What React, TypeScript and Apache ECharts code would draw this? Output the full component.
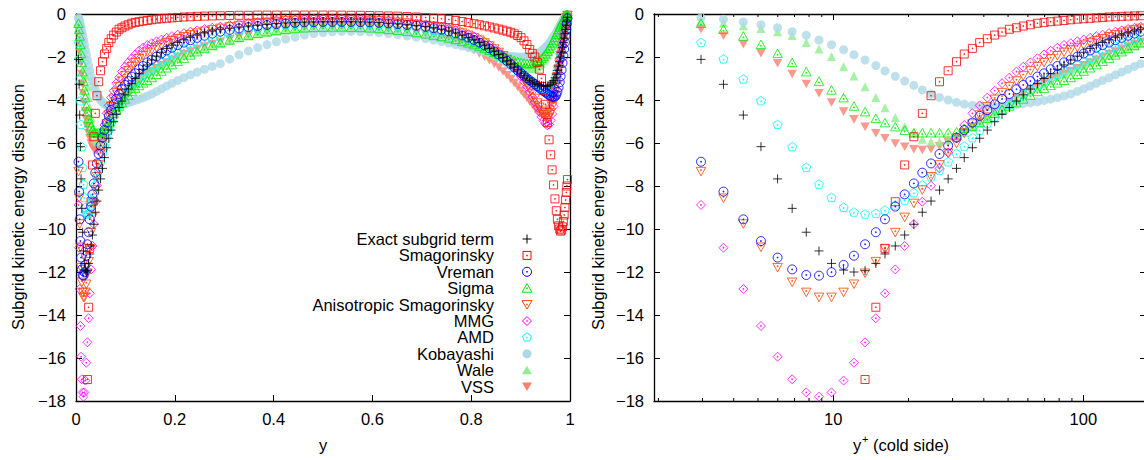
import React, { useEffect, useRef } from "react";
import * as echarts from "echarts";

const FONT = "'Liberation Sans', Arial, Helvetica, sans-serif";
const FS = 16.5;

// ---------- axis / tick data ----------
const logMinorTicks = [2, 3, 4, 5, 6, 7, 8, 9, 20, 30, 40, 50, 60, 70, 80, 90];
const legendNames = [
  "Exact subgrid term",
  "Smagorinsky",
  "Vreman",
  "Sigma",
  "Anisotropic Smagorinsky",
  "MMG",
  "AMD",
  "Kobayashi",
  "Wale",
  "VSS",
];

// ---------- grid positions ----------
// y+ of the cold-side points (right panel)
const yPlus = [2.96, 3.64, 4.37, 5.14, 5.99, 6.85, 7.8, 8.77, 9.84, 11.0, 12.1, 13.4, 14.8, 16.1, 17.7, 19.3, 21.0, 22.7, 24.6, 26.6, 28.8, 31.1, 33.4, 36.0, 38.5, 41.3, 44.2, 47.3, 50.6, 54.0, 57.5, 61.4, 65.5, 69.6, 74.0, 78.7, 83.7, 89.0, 94.6, 100.3, 106.4, 112.7, 119.4, 126.7, 134.3, 142.3, 150.9, 160.0, 169.5];
// y of the same cold-side points (left panel)
const yCold = [0.0051, 0.0063, 0.0075, 0.0089, 0.0103, 0.0118, 0.0134, 0.0151, 0.017, 0.019, 0.0209, 0.0231, 0.0255, 0.0278, 0.0305, 0.0333, 0.0362, 0.0391, 0.0424, 0.0459, 0.0497, 0.0536, 0.0576, 0.0621, 0.0664, 0.0712, 0.0762, 0.0816, 0.0872, 0.0931, 0.0991, 0.1059, 0.1129, 0.12, 0.1276, 0.1357, 0.1443, 0.1534, 0.1631, 0.1729, 0.1834, 0.1943, 0.2059, 0.2184, 0.2316, 0.2453, 0.2602, 0.2759, 0.2922];
const yMid = [0.3111, 0.33, 0.3489, 0.3678, 0.3867, 0.4056, 0.4245, 0.4434, 0.4623, 0.4812, 0.5001, 0.519, 0.5379, 0.5568, 0.5757, 0.5946, 0.6135, 0.6324, 0.6513, 0.6702, 0.6891];
const yHot = [0.7078, 0.7241, 0.7398, 0.7547, 0.7684, 0.7816, 0.7941, 0.8057, 0.8166, 0.8271, 0.8369, 0.8466, 0.8557, 0.8643, 0.8724, 0.88, 0.8871, 0.8941, 0.9009, 0.9069, 0.9128, 0.9184, 0.9238, 0.9288, 0.9336, 0.9379, 0.9424, 0.9464, 0.9503, 0.9541, 0.9576, 0.9609, 0.9638, 0.9667, 0.9695, 0.9722, 0.9745, 0.9769, 0.9791, 0.981, 0.983, 0.9849, 0.9866, 0.9882, 0.9897, 0.9911, 0.9925, 0.9937, 0.9949];

const N = null;

// ---------- Exact subgrid term ----------
const exactCold = [-2.11, -3.27, -4.7, -6.17, -7.67, -9.04, -10.15, -11.02, -11.6, -11.91, -12.0, -11.94, -11.6, -11.16, -10.79, -10.28, -9.78, -9.22, -8.7, -8.19, -7.67, -7.18, -6.68, -6.22, -5.78, -5.4, -5.01, -4.67, -4.35, -4.05, -3.76, -3.49, -3.24, -3.0, -2.78, -2.57, -2.37, -2.14, -1.96, -1.78, -1.6, -1.45, -1.32, -1.2, -1.08, -0.98, -0.88, -0.79, -0.71];
const exactMid = [-0.66, -0.61, -0.56, -0.52, -0.48, -0.45, -0.42, -0.4, -0.38, -0.37, -0.36, -0.36, -0.36, -0.36, -0.37, -0.38, -0.4, -0.43, -0.46, -0.5, -0.54];
const exactHot = [-0.58, -0.64, -0.71, -0.79, -0.88, -0.98, -1.1, -1.2, -1.32, -1.45, -1.6, -1.73, -1.88, -2.03, -2.18, -2.33, -2.47, -2.6, -2.75, -2.87, -2.98, -3.08, -3.16, -3.22, -3.27, -3.3, -3.33, -3.35, -3.36, -3.35, -3.32, -3.27, -3.2, -3.1, -2.97, -2.8, -2.62, -2.42, -2.22, -2.0, -1.78, -1.55, -1.33, -1.12, -0.92, -0.72, -0.52, -0.33, -0.15];

// ---------- Smagorinsky ----------
const smagCold = [N, N, N, N, N, N, N, N, N, N, N, -17.0, -13.64, -10.9, -8.73, -7.02, -5.71, -4.62, -3.8, -3.15, -2.64, -2.22, -1.86, -1.6, -1.33, -1.15, -0.98, -0.84, -0.71, -0.64, -0.56, -0.5, -0.43, -0.39, -0.36, -0.33, -0.3, -0.27, -0.24, -0.22, -0.2, -0.18, -0.16, -0.14, -0.13, -0.11, -0.1, -0.09, -0.08];
const smagMid = [-0.07, -0.06, -0.06, -0.05, -0.05, -0.05, -0.05, -0.05, -0.05, -0.05, -0.05, -0.05, -0.05, -0.06, -0.06, -0.07, -0.08, -0.09, -0.1, -0.12, -0.14];
const smagHot = [-0.16, -0.19, -0.22, -0.26, -0.3, -0.35, -0.4, -0.45, -0.5, -0.55, -0.6, -0.65, -0.7, -0.75, -0.8, -0.85, -0.92, -1.0, -1.1, -1.25, -1.42, -1.65, -1.83, -2.0, -2.25, -2.57, -3.0, -3.55, -4.2, -5.05, -5.85, -6.55, -7.25, -7.95, -8.6, -9.15, -9.55, -9.85, -10.0, -10.1, -10.05, -9.9, -9.65, -9.35, -9.0, -8.65, -8.3, -8.0, -7.7];

// ---------- Vreman ----------
const vremanCold = [-6.87, -8.26, -9.55, -10.56, -11.33, -11.88, -12.14, -12.17, -12.01, -11.67, -11.24, -10.71, -10.15, -9.55, -8.96, -8.39, -7.88, -7.38, -6.95, -6.51, -6.12, -5.75, -5.4, -5.05, -4.74, -4.47, -4.2, -3.95, -3.72, -3.5, -3.3, -3.12, -2.91, -2.76, -2.57, -2.42, -2.25, -2.12, -1.98, -1.84, -1.7, -1.57, -1.45, -1.33, -1.22, -1.11, -1.01, -0.91, -0.82];
const vremanMid = [-0.74, -0.67, -0.61, -0.56, -0.51, -0.47, -0.44, -0.41, -0.39, -0.38, -0.37, -0.37, -0.37, -0.37, -0.38, -0.39, -0.41, -0.44, -0.47, -0.51, -0.55];
const vremanHot = [-0.6, -0.66, -0.73, -0.81, -0.9, -1.0, -1.1, -1.21, -1.33, -1.46, -1.6, -1.74, -1.88, -2.03, -2.18, -2.33, -2.48, -2.62, -2.75, -2.87, -2.98, -3.08, -3.17, -3.26, -3.35, -3.43, -3.51, -3.58, -3.65, -3.71, -3.77, -3.82, -3.85, -3.86, -3.84, -3.76, -3.62, -3.42, -3.17, -2.9, -2.6, -2.28, -1.95, -1.63, -1.32, -1.02, -0.72, -0.45, -0.2];

// ---------- Sigma ----------
const sigmaCold = [-0.43, -0.71, -1.02, -1.41, -1.83, -2.25, -2.68, -3.12, -3.53, -3.89, -4.28, -4.54, -4.85, -5.05, -5.24, -5.4, -5.52, -5.52, -5.52, -5.52, -5.52, -5.47, -5.32, -5.21, -5.05, -4.85, -4.62, -4.43, -4.28, -4.12, -3.95, -3.77, -3.6, -3.45, -3.32, -3.2, -3.08, -2.95, -2.8, -2.65, -2.5, -2.35, -2.2, -2.05, -1.9, -1.75, -1.6, -1.46, -1.33];
const sigmaMid = [-1.2, -1.08, -0.98, -0.89, -0.82, -0.76, -0.71, -0.67, -0.64, -0.62, -0.61, -0.6, -0.6, -0.61, -0.62, -0.64, -0.67, -0.71, -0.75, -0.8, -0.86];
const sigmaHot = [-0.92, -0.98, -1.04, -1.11, -1.18, -1.26, -1.34, -1.42, -1.51, -1.6, -1.69, -1.78, -1.87, -1.95, -2.03, -2.1, -2.16, -2.21, -2.25, -2.28, -2.3, -2.31, -2.3, -2.27, -2.22, -2.15, -2.06, -1.96, -1.85, -1.73, -1.6, -1.47, -1.34, -1.21, -1.08, -0.95, -0.83, -0.71, -0.6, -0.5, -0.41, -0.32, -0.25, -0.18, -0.12, -0.08, -0.05, -0.03, -0.01];

// ---------- Anisotropic Smagorinsky ----------
const anisoCold = [-7.33, -8.57, -9.77, -10.85, -11.8, -12.48, -12.95, -13.18, -13.18, -12.95, -12.57, -12.06, -11.52, -10.93, -10.17, -9.46, -8.81, -8.19, -7.57, -7.02, -6.48, -6.02, -5.55, -5.12, -4.7, -4.31, -3.97, -3.66, -3.38, -3.12, -2.88, -2.65, -2.45, -2.26, -2.09, -1.94, -1.78, -1.67, -1.56, -1.45, -1.35, -1.25, -1.15, -1.06, -0.97, -0.89, -0.81, -0.74, -0.67];
const anisoMid = [-0.6, -0.54, -0.48, -0.43, -0.39, -0.35, -0.32, -0.3, -0.28, -0.27, -0.26, -0.26, -0.26, -0.27, -0.28, -0.3, -0.32, -0.35, -0.39, -0.43, -0.48];
const anisoHot = [-0.53, -0.59, -0.65, -0.72, -0.8, -0.89, -0.99, -1.1, -1.22, -1.35, -1.49, -1.63, -1.79, -1.95, -2.12, -2.3, -2.48, -2.67, -2.87, -3.07, -3.28, -3.5, -3.72, -3.93, -4.14, -4.34, -4.53, -4.69, -4.81, -4.86, -4.8, -4.6, -4.32, -3.99, -3.64, -3.27, -2.92, -2.57, -2.24, -1.93, -1.63, -1.35, -1.09, -0.86, -0.65, -0.47, -0.31, -0.18, -0.07];

// ---------- MMG ----------
const mmgCold = [-8.88, -10.87, -12.79, -14.51, -15.94, -16.99, -17.6, -17.8, -17.6, -17.05, -16.22, -15.27, -14.15, -12.99, -11.88, -10.79, -9.77, -8.73, -7.99, -7.18, -6.45, -5.78, -5.16, -4.62, -4.25, -3.89, -3.57, -3.22, -2.96, -2.68, -2.45, -2.25, -2.06, -1.88, -1.71, -1.57, -1.44, -1.36, -1.27, -1.19, -1.11, -1.03, -0.96, -0.89, -0.82, -0.76, -0.7, -0.64, -0.59];
const mmgMid = [-0.52, -0.46, -0.41, -0.37, -0.33, -0.3, -0.27, -0.25, -0.23, -0.22, -0.21, -0.21, -0.21, -0.22, -0.23, -0.25, -0.27, -0.3, -0.34, -0.38, -0.43];
const mmgHot = [-0.48, -0.54, -0.6, -0.67, -0.75, -0.84, -0.94, -1.05, -1.17, -1.3, -1.44, -1.59, -1.75, -1.92, -2.1, -2.29, -2.49, -2.7, -2.92, -3.15, -3.38, -3.62, -3.86, -4.1, -4.34, -4.56, -4.78, -4.96, -5.1, -5.18, -5.15, -4.95, -4.65, -4.3, -3.92, -3.52, -3.14, -2.76, -2.4, -2.06, -1.74, -1.44, -1.16, -0.91, -0.69, -0.5, -0.33, -0.19, -0.08];

// ---------- AMD ----------
const amdCold = [-1.32, -2.09, -3.02, -4.03, -5.13, -6.17, -7.13, -7.91, -8.53, -8.99, -9.21, -9.3, -9.27, -9.12, -8.88, -8.65, -8.31, -7.95, -7.57, -7.26, -6.87, -6.48, -6.14, -5.75, -5.4, -5.09, -4.78, -4.47, -4.2, -3.95, -3.72, -3.5, -3.3, -3.12, -2.95, -2.79, -2.64, -2.5, -2.35, -2.2, -2.05, -1.9, -1.76, -1.62, -1.49, -1.36, -1.24, -1.13, -1.02];
const amdMid = [-0.9, -0.8, -0.72, -0.65, -0.59, -0.54, -0.5, -0.47, -0.45, -0.43, -0.42, -0.42, -0.42, -0.43, -0.44, -0.46, -0.48, -0.51, -0.55, -0.59, -0.64];
const amdHot = [-0.69, -0.75, -0.82, -0.9, -0.99, -1.09, -1.19, -1.3, -1.42, -1.54, -1.67, -1.8, -1.94, -2.08, -2.22, -2.36, -2.5, -2.63, -2.76, -2.88, -2.99, -3.09, -3.18, -3.27, -3.35, -3.42, -3.49, -3.55, -3.6, -3.63, -3.64, -3.6, -3.5, -3.35, -3.15, -2.92, -2.68, -2.42, -2.15, -1.88, -1.62, -1.37, -1.13, -0.9, -0.69, -0.5, -0.33, -0.19, -0.08];

// ---------- Kobayashi ----------
const kobaCold = [-0.17, -0.25, -0.37, -0.5, -0.64, -0.82, -0.99, -1.21, -1.43, -1.66, -1.89, -2.14, -2.4, -2.65, -2.9, -3.12, -3.32, -3.53, -3.72, -3.88, -4.0, -4.11, -4.19, -4.25, -4.29, -4.31, -4.31, -4.29, -4.26, -4.22, -4.17, -4.13, -4.08, -4.02, -3.96, -3.89, -3.81, -3.72, -3.6, -3.48, -3.35, -3.22, -3.09, -2.96, -2.83, -2.7, -2.57, -2.44, -2.31];
const kobaMid = [-2.1, -1.9, -1.72, -1.56, -1.42, -1.29, -1.17, -1.07, -0.98, -0.91, -0.86, -0.83, -0.81, -0.81, -0.82, -0.84, -0.87, -0.91, -0.96, -1.02, -1.08];
const kobaHot = [-1.15, -1.21, -1.28, -1.35, -1.42, -1.49, -1.56, -1.62, -1.68, -1.74, -1.79, -1.84, -1.88, -1.91, -1.94, -1.96, -1.98, -1.99, -2.0, -2.0, -1.99, -1.97, -1.94, -1.9, -1.85, -1.79, -1.72, -1.64, -1.56, -1.47, -1.37, -1.27, -1.17, -1.07, -0.97, -0.87, -0.77, -0.67, -0.58, -0.49, -0.41, -0.33, -0.26, -0.2, -0.15, -0.1, -0.06, -0.03, -0.01];

// ---------- Wale ----------
const waleCold = [-0.3, -0.42, -0.55, -0.68, -0.82, -1.0, -1.32, -1.63, -1.98, -2.45, -2.88, -3.38, -3.88, -4.36, -4.81, -5.24, -5.55, -5.83, -5.94, -5.94, -5.86, -5.71, -5.5, -5.28, -5.05, -4.82, -4.6, -4.38, -4.17, -3.97, -3.78, -3.6, -3.42, -3.25, -3.09, -2.94, -2.8, -2.66, -2.53, -2.4, -2.27, -2.15, -2.03, -1.91, -1.8, -1.69, -1.58, -1.48, -1.38];
const waleMid = [-1.24, -1.12, -1.02, -0.93, -0.86, -0.8, -0.75, -0.71, -0.68, -0.66, -0.65, -0.64, -0.64, -0.65, -0.66, -0.68, -0.71, -0.75, -0.79, -0.84, -0.9];
const waleHot = [-0.96, -1.03, -1.1, -1.17, -1.25, -1.33, -1.42, -1.51, -1.6, -1.7, -1.8, -1.9, -1.99, -2.08, -2.17, -2.25, -2.32, -2.39, -2.44, -2.49, -2.52, -2.54, -2.54, -2.52, -2.47, -2.4, -2.3, -2.18, -2.05, -1.9, -1.75, -1.59, -1.43, -1.28, -1.13, -0.99, -0.86, -0.73, -0.62, -0.51, -0.41, -0.32, -0.25, -0.18, -0.12, -0.08, -0.05, -0.03, -0.01];

// ---------- VSS ----------
const vssCold = [-0.71, -1.01, -1.41, -1.83, -2.29, -2.79, -3.26, -3.69, -4.12, -4.54, -4.9, -5.24, -5.55, -5.78, -6.02, -6.17, -6.29, -6.33, -6.29, -6.15, -5.96, -5.74, -5.5, -5.25, -5.0, -4.76, -4.53, -4.31, -4.1, -3.9, -3.71, -3.53, -3.36, -3.2, -3.05, -2.91, -2.78, -2.65, -2.52, -2.39, -2.26, -2.13, -2.0, -1.87, -1.75, -1.63, -1.51, -1.4, -1.29];
const vssMid = [-1.18, -1.07, -0.97, -0.88, -0.8, -0.73, -0.67, -0.63, -0.6, -0.58, -0.57, -0.57, -0.57, -0.58, -0.6, -0.62, -0.65, -0.69, -0.74, -0.8, -0.86];
const vssHot = [-0.92, -1.0, -1.09, -1.19, -1.3, -1.42, -1.55, -1.69, -1.84, -1.99, -2.15, -2.32, -2.49, -2.67, -2.85, -3.03, -3.21, -3.39, -3.57, -3.74, -3.91, -4.07, -4.22, -4.36, -4.49, -4.6, -4.68, -4.72, -4.7, -4.6, -4.42, -4.18, -3.9, -3.6, -3.28, -2.96, -2.64, -2.33, -2.03, -1.75, -1.48, -1.23, -1.0, -0.79, -0.6, -0.43, -0.28, -0.16, -0.06];

// ---------- styles (kept separate from data) ----------
type Kind = "plus" | "square" | "circle" | "tri" | "tridown" | "diamond" | "pent" | "fcircle" | "ftri" | "ftridown";
const SYMBOL_PATH: Record<Kind, string> = {
  plus: "path://M4,0V8M0,4H8",
  square: "path://M0,0H10V10H0Z M4.5,4.5H5.5V5.5H4.5Z",
  circle: "path://M10,5A5,5 0 1 1 0,5A5,5 0 1 1 10,5Z M4.5,4.5H5.5V5.5H4.5Z",
  tri: "path://M5,0L10,9L0,9Z M4.5,5.5H5.5V6.5H4.5Z",
  tridown: "path://M0,0L10,0L5,9Z M4.5,2.5H5.5V3.5H4.5Z",
  diamond: "path://M5,0L10,5L5,10L0,5Z M4.5,4.5H5.5V5.5H4.5Z",
  pent: "path://M5,0L9.76,3.46L7.94,9.05L2.06,9.05L0.24,3.46Z M4.5,4.8H5.5V5.8H4.5Z",
  fcircle: "circle",
  ftri: "triangle",
  ftridown: "path://M0,0L10,0L5,9Z",
};

const seriesDefs = [
  { name: legendNames[0], cold: exactCold, mid: exactMid, hot: exactHot, color: "#000000", kind: "plus" as Kind, size: 9 },
  { name: legendNames[1], cold: smagCold, mid: smagMid, hot: smagHot, color: "#ff0000", kind: "square" as Kind, size: 8 },
  { name: legendNames[2], cold: vremanCold, mid: vremanMid, hot: vremanHot, color: "#0000ff", kind: "circle" as Kind, size: 9 },
  { name: legendNames[3], cold: sigmaCold, mid: sigmaMid, hot: sigmaHot, color: "#00ee00", kind: "tri" as Kind, size: 9.5 },
  { name: legendNames[4], cold: anisoCold, mid: anisoMid, hot: anisoHot, color: "#ff4500", kind: "tridown" as Kind, size: 9.5 },
  { name: legendNames[5], cold: mmgCold, mid: mmgMid, hot: mmgHot, color: "#ff00ff", kind: "diamond" as Kind, size: 9 },
  { name: legendNames[6], cold: amdCold, mid: amdMid, hot: amdHot, color: "#00ffff", kind: "pent" as Kind, size: 9 },
  { name: legendNames[7], cold: kobaCold, mid: kobaMid, hot: kobaHot, color: "#add8e6", kind: "fcircle" as Kind, size: 9 },
  { name: legendNames[8], cold: waleCold, mid: waleMid, hot: waleHot, color: "#90ee90", kind: "ftri" as Kind, size: 9 },
  { name: legendNames[9], cold: vssCold, mid: vssMid, hot: vssHot, color: "#fa8072", kind: "ftridown" as Kind, size: 9.5 },
];

const isFilled = (k: Kind) => k === "fcircle" || k === "ftri" || k === "ftridown";

function legendIcon(kind: Kind, color: string, cx: number, cy: number): any[] {
  const r = 4;
  const line = { stroke: color, fill: "none", lineWidth: 1 };
  const dot = { type: "rect", shape: { x: cx - 0.75, y: cy - 0.75, width: 1.5, height: 1.5 }, style: { fill: color } };
  switch (kind) {
    case "plus":
      return [
        { type: "line", shape: { x1: cx - 4.5, y1: cy, x2: cx + 4.5, y2: cy }, style: { stroke: color, lineWidth: 1 } },
        { type: "line", shape: { x1: cx, y1: cy - 4.5, x2: cx, y2: cy + 4.5 }, style: { stroke: color, lineWidth: 1 } },
      ];
    case "square":
      return [{ type: "rect", shape: { x: cx - r, y: cy - r, width: 2 * r, height: 2 * r }, style: line }, dot];
    case "circle":
      return [{ type: "circle", shape: { cx, cy, r: 4.5 }, style: line }, dot];
    case "tri":
      return [{ type: "polygon", shape: { points: [[cx, cy - 4.5], [cx + 5, cy + 4], [cx - 5, cy + 4]] }, style: line }, dot];
    case "tridown":
      return [{ type: "polygon", shape: { points: [[cx - 5, cy - 4], [cx + 5, cy - 4], [cx, cy + 4.5]] }, style: line }, dot];
    case "diamond":
      return [{ type: "polygon", shape: { points: [[cx, cy - 4.5], [cx + 4.5, cy], [cx, cy + 4.5], [cx - 4.5, cy]] }, style: line }, dot];
    case "pent":
      return [
        { type: "polygon", shape: { points: [[cx, cy - 4.6], [cx + 4.4, cy - 1.4], [cx + 2.7, cy + 3.7], [cx - 2.7, cy + 3.7], [cx - 4.4, cy - 1.4]] }, style: line },
        dot,
      ];
    case "fcircle":
      return [{ type: "circle", shape: { cx, cy, r: 4.5 }, style: { fill: color } }];
    case "ftri":
      return [{ type: "polygon", shape: { points: [[cx, cy - 4.5], [cx + 5, cy + 4], [cx - 5, cy + 4]] }, style: { fill: color } }];
    case "ftridown":
      return [{ type: "polygon", shape: { points: [[cx - 5, cy - 4], [cx + 5, cy - 4], [cx, cy + 4.5]] }, style: { fill: color } }];
  }
  return [];
}

const minusFmt = (v: number) => (v < 0 ? "\u2212" + Math.abs(v) : String(v));
const logFmt = (v: number) => {
  const l = Math.log10(v);
  return Math.abs(l - Math.round(l)) < 1e-6 ? String(Math.round(v)) : "";
};

const axisLineStyle = { show: true, onZero: false, lineStyle: { color: "#000", width: 1.3 } };
const labelStyle = { fontSize: FS, fontFamily: FONT, color: "#000" };

function yAxisDef(gridIndex: number, position: string, showLabel: boolean) {
  return {
    type: "value",
    gridIndex,
    position,
    min: -18,
    max: 0,
    interval: 2,
    axisLine: axisLineStyle,
    axisTick: { show: true, inside: true, length: 6, lineStyle: { color: "#000", width: 1 } },
    axisLabel: { show: showLabel, margin: 10, ...labelStyle, formatter: minusFmt },
    splitLine: { show: false },
  };
}

function linXAxis(position: string, showLabel: boolean) {
  return {
    type: "value",
    gridIndex: 0,
    position,
    min: 0,
    max: 1,
    interval: 0.2,
    axisLine: axisLineStyle,
    axisTick: { show: true, inside: true, length: 6, lineStyle: { color: "#000", width: 1 } },
    axisLabel: { show: showLabel, margin: 9, ...labelStyle, formatter: (v: number) => String(Math.round(v * 10) / 10) },
    splitLine: { show: false },
  };
}

function logXAxis(position: string, showLabel: boolean) {
  return {
    type: "log",
    logBase: 10,
    gridIndex: 1,
    position,
    min: 1.92,
    max: 178,
    axisLine: axisLineStyle,
    axisTick: { show: true, inside: true, length: 6, lineStyle: { color: "#000", width: 1 } },
    axisLabel: { show: showLabel, margin: 9, ...labelStyle, formatter: logFmt, showMinLabel: false, showMaxLabel: false },
    splitLine: { show: false },
    minorTick: { show: false },
  };
}

function buildOption() {
  const ordered = [...seriesDefs].reverse();
  const series: any[] = [];
  ordered.forEach((s) => {
    const filled = isFilled(s.kind);
    const itemStyle = filled
      ? { color: s.color, borderWidth: 0 }
      : { color: "rgba(0,0,0,0)", borderColor: s.color, borderWidth: 1 };
    const common = {
      type: "scatter",
      name: s.name,
      symbol: SYMBOL_PATH[s.kind],
      symbolSize: s.size,
      symbolKeepAspect: true,
      itemStyle,
      silent: true,
      emphasis: { disabled: true },
    };
    const leftData: number[][] = [];
    yCold.forEach((y, i) => { if (s.cold[i] != null) leftData.push([y, s.cold[i] as number]); });
    yMid.forEach((y, i) => { if (s.mid[i] != null) leftData.push([y, s.mid[i] as number]); });
    yHot.forEach((y, i) => { if (s.hot[i] != null) leftData.push([y, s.hot[i] as number]); });
    const rightData: number[][] = [];
    yPlus.forEach((x, i) => { if (s.cold[i] != null) rightData.push([x, s.cold[i] as number]); });
    series.push({ ...common, xAxisIndex: 0, yAxisIndex: 0, data: leftData });
    series.push({ ...common, xAxisIndex: 2, yAxisIndex: 2, data: rightData });
  });

  // minor ticks of the log axis (bottom and mirrored top)
  series.push({
    type: "custom",
    xAxisIndex: 2,
    yAxisIndex: 2,
    silent: true,
    clip: false,
    z: 10,
    data: logMinorTicks.map((v) => [v, -18]),
    renderItem: (_p: any, api: any) => {
      const v = api.value(0);
      const b = api.coord([v, -18]);
      const t = api.coord([v, 0]);
      return {
        type: "group",
        children: [
          { type: "line", shape: { x1: b[0], y1: b[1], x2: b[0], y2: b[1] - 3 }, style: { stroke: "#000", lineWidth: 1 } },
          { type: "line", shape: { x1: t[0], y1: t[1], x2: t[0], y2: t[1] + 3 }, style: { stroke: "#000", lineWidth: 1 } },
        ],
      };
    },
  });

  const graphics: any[] = [];
  const keyTextX = 494;
  const keySymX = 527;
  const keyY0 = 239;
  const keyStep = 16.4;
  seriesDefs.forEach((s, i) => {
    const y = keyY0 + i * keyStep;
    graphics.push({
      type: "text",
      x: keyTextX,
      y,
      style: { text: s.name, fontSize: FS, fontFamily: FONT, fill: "#000", align: "right", verticalAlign: "middle" },
    });
    legendIcon(s.kind, s.color, keySymX, y).forEach((g) => graphics.push(g));
  });
  // axis titles
  const title = (x: number, y: number, text: string, rot = 0, size = FS, align = "center") => ({
    type: "text",
    x,
    y,
    rotation: rot,
    style: { text, fontSize: size, fontFamily: FONT, fill: "#000", align, verticalAlign: "middle" },
  });
  graphics.push(title(18, 207, "Subgrid kinetic energy dissipation", Math.PI / 2));
  graphics.push(title(598, 207, "Subgrid kinetic energy dissipation", Math.PI / 2));
  graphics.push(title(323, 445, "y"));
  graphics.push(title(853, 445, "y", 0, FS, "left"));
  graphics.push(title(862, 439, "+", 0, 11, "left"));
  graphics.push(title(873, 445, "(cold side)", 0, FS, "left"));

  return {
    animation: false,
    backgroundColor: "#ffffff",
    textStyle: { fontFamily: FONT },
    grid: [
      { left: 76, top: 14, width: 494, height: 387 },
      { left: 654, top: 14, width: 492, height: 387 },
    ],
    xAxis: [linXAxis("bottom", true), linXAxis("top", false), logXAxis("bottom", true), logXAxis("top", false)],
    yAxis: [yAxisDef(0, "left", true), yAxisDef(0, "right", false), yAxisDef(1, "left", true), yAxisDef(1, "right", false)],
    series,
    graphic: { elements: graphics },
  };
}

export default function App() {
  const ref = useRef<HTMLDivElement>(null);
  useEffect(() => {
    if (!ref.current) return;
    const chart = echarts.init(ref.current, undefined, { renderer: "svg" });
    chart.setOption(buildOption() as any);
    return () => chart.dispose();
  }, []);
  return (
    <div style={{ position: "fixed", left: 0, top: 0, width: 1144, height: 460, overflow: "hidden", background: "#fff" }}>
      <div ref={ref} style={{ width: 1160, height: 460 }} />
    </div>
  );
}
